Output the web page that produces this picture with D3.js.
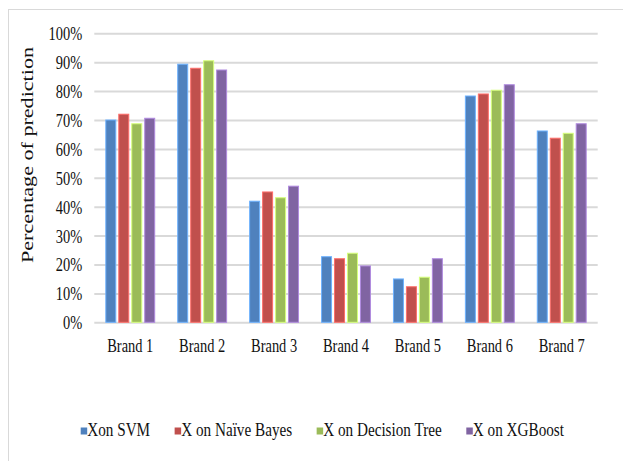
<!DOCTYPE html>
<html>
<head>
<meta charset="utf-8">
<script src="https://cdn.jsdelivr.net/npm/d3@7"></script>
<style>
  html, body { margin: 0; padding: 0; background: #fff; }
  svg { display: block; }
  text { font-family: "Liberation Serif", "Times New Roman", serif; fill: #111; }
</style>
</head>
<body>
<svg id="chart" width="623" height="461"></svg>
<script>
// Brands on the x axis
const brands = ["Brand 1", "Brand 2", "Brand 3", "Brand 4", "Brand 5", "Brand 6", "Brand 7"];

// Classifier series (prediction share, %)
const seriesNames = ["Xon SVM", "X on Naïve Bayes", "X on Decision Tree", "X on XGBoost"];
const svmValues      = [70.0, 89.3, 41.9, 22.7, 15.0, 78.3, 66.2];
const bayesValues    = [72.0, 87.9, 45.1, 22.0, 12.3, 79.0, 63.7];
const treeValues     = [68.7, 90.5, 43.1, 23.9, 15.6, 80.3, 65.4];
const xgboostValues  = [70.6, 87.3, 47.1, 19.5, 22.0, 82.2, 68.7];
const seriesValues = [svmValues, bayesValues, treeValues, xgboostValues];

// Y axis ticks (%)
const yTicks = [0, 10, 20, 30, 40, 50, 60, 70, 80, 90, 100];

const colors = ["#4F81BD", "#C0504D", "#9BBB59", "#8064A2"];

const svg = d3.select("#chart");

// Narrow serif look: squeeze text horizontally to a fraction of its natural width
function squeeze(sel, k = 0.78) {
  sel.each(function () {
    const w = this.getComputedTextLength();
    d3.select(this).attr("textLength", w * k).attr("lengthAdjust", "spacingAndGlyphs");
  });
}

// Outer frame
svg.append("rect")
  .attr("x", 8.5).attr("y", 9.5)
  .attr("width", 700).attr("height", 500)
  .attr("fill", "none").attr("stroke", "#d9d9d9").attr("stroke-width", 1);

const plotLeft = 94.3, plotRight = 597.7, plotTop = 33.3, plotBottom = 322.3;

const y = d3.scaleLinear().domain([0, 100]).range([plotBottom, plotTop]);
const x0 = d3.scaleBand().domain(brands).range([plotLeft, plotRight])
  .paddingInner(0.32).paddingOuter(0.16);
const x1 = d3.scaleBand().domain(d3.range(seriesNames.length)).range([0, x0.bandwidth()])
  .paddingInner(0.23).paddingOuter(0);

// Gridlines and tick labels
const yAxis = d3.axisLeft(y).tickValues(yTicks)
  .tickSize(-(plotRight - plotLeft)).tickPadding(12)
  .tickFormat(d => d + "%");
const gy = svg.append("g").attr("transform", `translate(${plotLeft},0)`).call(yAxis);
gy.select(".domain").remove();
gy.selectAll(".tick line").attr("stroke", "#d9d9d9").attr("stroke-width", 2);
gy.selectAll(".tick text")
  .attr("font-size", 19)
  .attr("dy", "0.34em")
  .attr("fill", "#111")
  .style("font-family", "'Liberation Serif', serif")
  .call(squeeze, 0.76);

// Bars
const groups = svg.append("g").selectAll("g")
  .data(brands)
  .join("g")
  .attr("transform", d => `translate(${x0(d)},0)`);

groups.selectAll("rect")
  .data((b, i) => seriesValues.map((vals, s) => ({ s, v: vals[i] })))
  .join("rect")
  .attr("x", d => x1(d.s))
  .attr("width", x1.bandwidth())
  .attr("y", d => y(d.v))
  .attr("height", d => y(0) - y(d.v))
  .attr("fill", d => colors[d.s])
  .attr("stroke", d => d3.color(colors[d.s]).brighter(0.9))
  .attr("stroke-width", 1);

// X axis labels
const xAxis = d3.axisBottom(x0).tickSize(0).tickPadding(16);
const gx = svg.append("g").attr("transform", `translate(0,${plotBottom})`).call(xAxis);
gx.select(".domain").remove();
gx.selectAll(".tick text")
  .attr("font-size", 19)
  .attr("fill", "#111")
  .style("font-family", "'Liberation Serif', serif")
  .call(squeeze, 0.76);

// Y axis title
svg.append("text")
  .attr("transform", "translate(33,155) rotate(-90)")
  .attr("text-anchor", "middle")
  .attr("font-size", 17)
  .attr("textLength", 216)
  .attr("lengthAdjust", "spacingAndGlyphs")
  .text("Percentage of prediction");

// Legend
const legend = svg.append("g").attr("transform", "translate(80.7,0)");
let cursor = 0;
seriesNames.forEach((name, i) => {
  const item = legend.append("g").attr("transform", `translate(${cursor},0)`);
  item.append("rect")
    .attr("x", 0).attr("y", 427.5)
    .attr("width", 6.5).attr("height", 7)
    .attr("fill", colors[i]);
  const t = item.append("text")
    .attr("x", 6.5).attr("y", 436)
    .attr("font-size", 19)
    .text(name)
    .call(squeeze, 0.8);
  cursor += 6.5 + (+t.attr("textLength")) + 24.5;
});
</script>
</body>
</html>
